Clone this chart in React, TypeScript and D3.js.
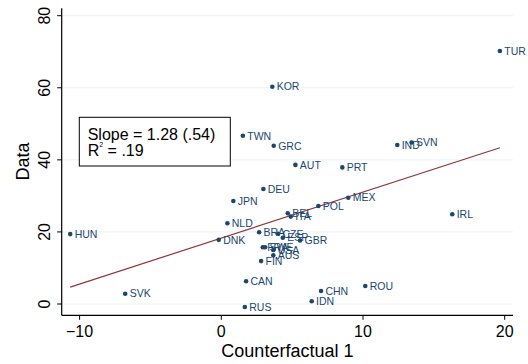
import React from "react";
import * as d3 from "d3";

const countries = ["TUR","KOR","TWN","GRC","IND","SVN","AUT","PRT","DEU","MEX","JPN","POL","BEL","ITA","IRL","NLD","BRA","CZE","ESP","GBR","DNK","HUN","FRA","SWE","USA","AUS","FIN","CAN","CHN","ROU","IDN","SVK","RUS"];
const counterfactual = [19.66,3.60,1.52,3.70,12.42,13.43,5.23,8.54,2.97,8.96,0.85,6.85,4.69,4.90,16.30,0.43,2.67,4.01,4.34,5.56,-0.18,-10.66,2.93,3.09,3.67,3.67,2.81,1.75,7.04,10.16,6.38,-6.78,1.66];
const dataValues = [70.2,60.3,46.7,43.9,44.1,44.8,38.6,37.9,31.9,29.5,28.6,27.2,25.2,24.25,24.9,22.4,19.9,19.5,18.4,17.6,17.8,19.4,15.75,15.75,15.0,13.5,11.9,6.3,3.6,5.0,0.75,2.86,-0.83];
const xTicks = [-10, 0, 10, 20];
const yTicks = [0, 20, 40, 60, 80];
const fitSlope = 1.28;
const fitSE = ".54";
const r2 = ".19";

export default function App() {
  const W = 528, H = 364;
  const left = 61.7, right = 513, top = 8.3, bottom = 315.3;
  const x = d3.scaleLinear().domain([-10, 20]).range([79.6, 504.7]);
  const y = d3.scaleLinear().domain([0, 80]).range([304, 15.7]);

  // OLS fit from data
  const n = counterfactual.length;
  const mx = d3.mean(counterfactual) as number;
  const my = d3.mean(dataValues) as number;
  let sxy = 0, sxx = 0;
  for (let i = 0; i < n; i++) {
    sxy += (counterfactual[i] - mx) * (dataValues[i] - my);
    sxx += (counterfactual[i] - mx) ** 2;
  }
  const b = sxy / sxx;
  const a = my - b * mx;
  const xMin = d3.min(counterfactual) as number;
  const xMax = d3.max(counterfactual) as number;
  const line = d3.line<number>().x((v) => x(v)).y((v) => y(a + b * v));

  const navy = "#1a476f";
  const font = "'Liberation Sans', Arial, Helvetica, sans-serif";

  return (
    <svg width={W} height={H} style={{ position: "absolute", left: 0, top: 0, background: "#fff" }} fontFamily={font}>
      {yTicks.map((t) => (
        <line key={"g" + t} x1={left} x2={right} y1={y(t)} y2={y(t)} stroke="#eaf2f3" strokeWidth={1} />
      ))}
      <line x1={left} x2={left} y1={top} y2={bottom} stroke="#000" strokeWidth={1.2} />
      <line x1={left} x2={right} y1={bottom} y2={bottom} stroke="#000" strokeWidth={1.2} />
      {yTicks.map((t) => (
        <g key={"yt" + t}>
          <line x1={left - 4.5} x2={left} y1={y(t)} y2={y(t)} stroke="#000" strokeWidth={1} />
          <text transform={`translate(50,${y(t)}) rotate(-90)`} textAnchor="middle" fontSize={16} fill="#000">{t}</text>
        </g>
      ))}
      {xTicks.map((t) => (
        <g key={"xt" + t}>
          <line x1={x(t)} x2={x(t)} y1={bottom} y2={bottom + 4.5} stroke="#000" strokeWidth={1} />
          <text x={x(t)} y={336.7} textAnchor="middle" fontSize={16} fill="#000">{t === -10 ? "\u221210" : t}</text>
        </g>
      ))}
      <text transform={`translate(28.5,161.5) rotate(-90)`} textAnchor="middle" fontSize={18} fill="#000">Data</text>
      <text x={287.4} y={356.7} textAnchor="middle" fontSize={18} fill="#000">Counterfactual 1</text>

      <path d={line([xMin, xMax]) || ""} stroke="#90353b" strokeWidth={1.2} fill="none" />

      {countries.map((c, i) => (
        <g key={c}>
          <circle cx={x(counterfactual[i])} cy={y(dataValues[i])} r={2.3} fill={navy} />
          <text x={x(counterfactual[i]) + 4.4} y={y(dataValues[i]) + 3.8} fontSize={10.5} fill={navy}>{c}</text>
        </g>
      ))}

      <rect x={79.3} y={117.3} width={151} height={48.7} fill="#fff" stroke="#000" strokeWidth={1} />
      <text x={87.7} y={140} fontSize={16} fill="#000">{`Slope = ${fitSlope.toFixed(2)} (${fitSE})`}</text>
      <text x={87.7} y={156} fontSize={16} fill="#000">
        R<tspan fontSize={7} dy={-9}>2</tspan><tspan dy={9}>{` = ${r2}`}</tspan>
      </text>
    </svg>
  );
}
